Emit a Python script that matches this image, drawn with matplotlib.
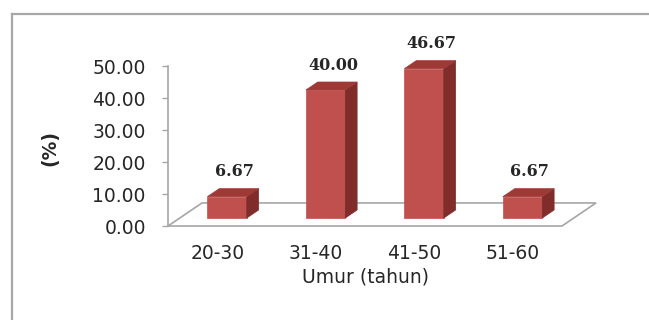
import matplotlib
matplotlib.use("Agg")
import matplotlib.pyplot as plt
from matplotlib.patches import Polygon
from matplotlib.lines import Line2D
import numpy as np

# ---- data ----
categories = ["20-30", "31-40", "41-50", "51-60"]
values = [6.67, 40.00, 46.67, 6.67]
y_ticks = [0, 10, 20, 30, 40, 50]
x_label = "Umur (tahun)"
y_label = "(%)"

# ---- style ----
FRONT = "#C0504D"
SIDE = "#7F2C2A"
TOP = "#9E3936"
EDGE = "#A6A6A6"
TEXT = "#262626"

W, H = 649, 320
fig = plt.figure(figsize=(W / 100, H / 100), dpi=100)
fig.patch.set_facecolor("white")

# outer chart border (top and left visible)
fig.add_artist(Line2D([12 / W, 648 / W], [1 - 14 / H, 1 - 14 / H], color="#A8A8A8", lw=1.6))
fig.add_artist(Line2D([12 / W, 12 / W], [1 - 14 / H, 0], color="#A8A8A8", lw=1.6))

ax = fig.add_axes([168 / W, 94 / H, 394 / W, 160 / H])
ax.set_xlim(-0.5, len(categories) - 0.5)
ax.set_ylim(0, 50)
ax.patch.set_alpha(0)
for s in ["top", "right", "bottom"]:
    ax.spines[s].set_visible(False)
ax.spines["left"].set_color(EDGE)
ax.spines["left"].set_linewidth(1.2)

# 3D depth (in data units)
floor_dx, floor_dy = 0.345, 7.2
bar_dx, bar_dy = 0.12, 2.5
bar_w = 0.4
bar_shift_x = 0.10
bar_base = 2.5

n = len(categories)
floor = Polygon([(-0.5, 0), (n - 0.5, 0), (n - 0.5 + floor_dx, floor_dy), (-0.5 + floor_dx, floor_dy)],
                closed=True, facecolor="white", edgecolor=EDGE, lw=1.2, clip_on=False, zorder=1)
ax.add_patch(floor)

xpos = np.arange(n) + bar_shift_x
ax.bar(xpos, values, width=bar_w, bottom=bar_base, color=FRONT, edgecolor=FRONT, lw=0.5,
       zorder=3, clip_on=False)
for x, v in zip(xpos, values):
    x0, x1 = x - bar_w / 2, x + bar_w / 2
    ytop = bar_base + v
    side = Polygon([(x1, bar_base), (x1 + bar_dx, bar_base + bar_dy), (x1 + bar_dx, ytop + bar_dy), (x1, ytop)],
                   closed=True, facecolor=SIDE, edgecolor=SIDE, lw=0.5, clip_on=False, zorder=3)
    top = Polygon([(x0, ytop), (x1, ytop), (x1 + bar_dx, ytop + bar_dy), (x0 + bar_dx, ytop + bar_dy)],
                  closed=True, facecolor=TOP, edgecolor=TOP, lw=0.5, clip_on=False, zorder=3)
    ax.add_patch(side)
    ax.add_patch(top)
    ax.annotate(f"{v:.2f}", xy=(x + bar_dx / 2, ytop + bar_dy), xytext=(1, 6),
                textcoords="offset points", ha="center", va="bottom",
                fontsize=11.5, fontweight="bold", family="DejaVu Serif", color=TEXT,
                annotation_clip=False)

ax.set_yticks(y_ticks)
ax.set_yticklabels([f"{t:.2f}" for t in y_ticks])
ax.tick_params(axis="y", direction="out", length=4.5, width=1, color=EDGE, pad=11.5,
               labelsize=13.5, labelcolor=TEXT)
ax.set_xticks(np.arange(n))
ax.set_xticklabels(categories)
ax.tick_params(axis="x", length=0, pad=13, labelsize=13.5, labelcolor=TEXT)
ax.set_xlabel(x_label, fontsize=13.5, color=TEXT, labelpad=3)

fig.text(50 / W, 1 - 148 / H, y_label, rotation=90, ha="center", va="center",
         fontsize=13.5, fontweight="bold", color=TEXT)

fig.savefig("out.png", dpi=100)
